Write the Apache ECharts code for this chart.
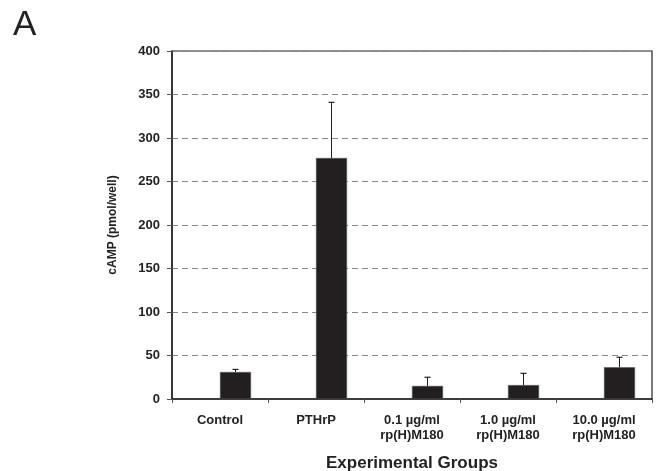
<!DOCTYPE html>
<html>
<head>
<meta charset="utf-8">
<script src="https://cdn.jsdelivr.net/npm/echarts@6/dist/echarts.min.js"></script>
<style>html,body{margin:0;padding:0;background:#fff;}#c{width:661px;height:471px;}</style>
</head>
<body>
<div id="c"></div>
<script>
const categories = ['Control', 'PTHrP', '0.1 \u00b5g/ml\nrp(H)M180', '1.0 \u00b5g/ml\nrp(H)M180', '10.0 \u00b5g/ml\nrp(H)M180'];
const means = [31, 277, 15, 16, 36.5];
const errorsUp = [3, 64, 10, 13.5, 11.5];
const yTicks = [0, 50, 100, 150, 200, 250, 300, 350, 400];

const BAR_W = 31;
const FONT = '"Liberation Sans", Arial, sans-serif';
const TXT = '#222';

const chart = echarts.init(document.getElementById('c'), null, {renderer: 'canvas'});
chart.setOption({
  animation: false,
  backgroundColor: '#fff',
  title: {
    text: 'A', left: 8, top: 3,
    textStyle: {fontFamily: FONT, fontSize: 35, fontWeight: 'normal', color: '#222'}
  },
  grid: {left: 172, right: 9, top: 51, bottom: 72, outerBoundsMode: 'none', containLabel: false, show: true, borderColor: '#222', borderWidth: 1.2, backgroundColor: 'transparent'},
  xAxis: {
    type: 'category',
    data: categories,
    name: 'Experimental Groups',
    nameLocation: 'middle',
    nameGap: 56,
    nameTextStyle: {fontFamily: FONT, fontSize: 17, fontWeight: 'bold', color: TXT},
    axisLine: {lineStyle: {color: '#222', width: 1.5}},
    axisTick: {show: true, length: 4, lineStyle: {color: '#555'}},
    axisLabel: {fontFamily: FONT, fontSize: 13, fontWeight: 'bold', color: TXT, margin: 14, lineHeight: 15, interval: 0},
    splitLine: {show: false}
  },
  yAxis: {
    type: 'value',
    min: yTicks[0], max: yTicks[yTicks.length - 1], interval: yTicks[1] - yTicks[0],
    name: 'cAMP (pmol/well)',
    nameLocation: 'middle',
    nameGap: 53,
    nameRotate: 90,
    nameTextStyle: {fontFamily: FONT, fontSize: 12, fontWeight: 'bold', color: TXT},
    axisLine: {show: true, lineStyle: {color: '#222', width: 1.5}},
    axisTick: {show: true, length: 5, lineStyle: {color: '#555'}},
    axisLabel: {fontFamily: FONT, fontSize: 13, fontWeight: 'bold', color: TXT, margin: 12},
    splitLine: {show: true, lineStyle: {color: '#888', type: [6, 4], width: 1}}
  },
  series: [
    {
      type: 'bar', name: 'spacer',
      data: categories.map(() => null),
      barWidth: BAR_W, barGap: '0%'
    },
    {
      type: 'bar', name: 'cAMP',
      data: means,
      barWidth: BAR_W, barGap: '0%',
      itemStyle: {color: '#231f20', borderColor: '#555', borderWidth: 0.5}
    },
    {
      type: 'custom', name: 'err',
      data: means.map((m, i) => [i, m, m + errorsUp[i]]),
      z: 5,
      renderItem: function (params, api) {
        const base = api.coord([api.value(0), api.value(1)]);
        const top = api.coord([api.value(0), api.value(2)]);
        const x = base[0] + BAR_W / 2;
        const cap = 3;
        return {
          type: 'group',
          children: [
            {type: 'line', shape: {x1: x, y1: base[1], x2: x, y2: top[1]}, style: {stroke: '#231f20', lineWidth: 1}},
            {type: 'line', shape: {x1: x - cap, y1: top[1], x2: x + cap, y2: top[1]}, style: {stroke: '#231f20', lineWidth: 1.2}}
          ]
        };
      }
    }
  ]
});
</script>
</body>
</html>
